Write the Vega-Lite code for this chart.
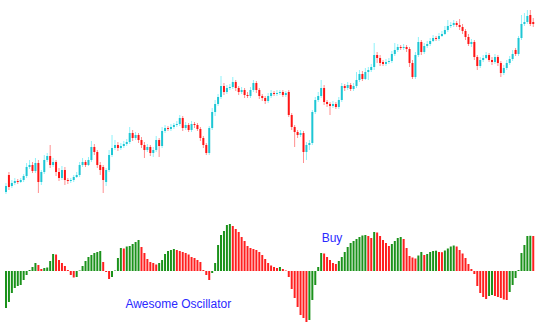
{
"$schema": "https://vega.github.io/schema/vega-lite/v6.json",
"width": 552, "height": 334,
"autosize": {"type": "fit", "contains": "padding"},
"padding": 0,
"background": "white",
"config": {"view": {"stroke": null}},
"datasets": {
"candles": [
{"i":0,"o":208,"h":217,"l":206,"c":214},{"i":1,"o":225,"h":228,"l":210,"c":213},{"i":2,"o":214,"h":220,"l":212,"c":217},{"i":3,"o":217,"h":222,"l":215,"c":219},{"i":4,"o":219,"h":221,"l":216,"c":218},{"i":5,"o":218,"h":222,"l":217,"c":220},{"i":6,"o":220,"h":226,"l":218,"c":224},{"i":7,"o":224,"h":237,"l":222,"c":233},{"i":8,"o":233,"h":240,"l":231,"c":235},{"i":9,"o":235,"h":238,"l":227,"c":229},
{"i":10,"o":229,"h":242,"l":227,"c":237},{"i":11,"o":237,"h":240,"l":207,"c":218},{"i":12,"o":218,"h":230,"l":215,"c":228},{"i":13,"o":228,"h":245,"l":226,"c":240},{"i":14,"o":240,"h":247,"l":238,"c":244},{"i":15,"o":244,"h":255,"l":232,"c":235},{"i":16,"o":235,"h":242,"l":233,"c":238},{"i":17,"o":238,"h":240,"l":224,"c":228},{"i":18,"o":228,"h":232,"l":219,"c":222},{"i":19,"o":222,"h":234,"l":220,"c":230},
{"i":20,"o":230,"h":233,"l":215,"c":220},{"i":21,"o":220,"h":222,"l":216,"c":219},{"i":22,"o":219,"h":222,"l":217,"c":220},{"i":23,"o":220,"h":225,"l":218,"c":223},{"i":24,"o":223,"h":228,"l":222,"c":225},{"i":25,"o":225,"h":238,"l":223,"c":235},{"i":26,"o":235,"h":242,"l":233,"c":238},{"i":27,"o":238,"h":240,"l":233,"c":235},{"i":28,"o":235,"h":243,"l":234,"c":240},{"i":29,"o":240,"h":259,"l":238,"c":253},
{"i":30,"o":253,"h":256,"l":245,"c":248},{"i":31,"o":248,"h":250,"l":232,"c":235},{"i":32,"o":235,"h":238,"l":225,"c":230},{"i":33,"o":233,"h":235,"l":207,"c":220},{"i":34,"o":218,"h":232,"l":214,"c":230},{"i":35,"o":230,"h":250,"l":228,"c":245},{"i":36,"o":245,"h":265,"l":243,"c":252},{"i":37,"o":252,"h":260,"l":250,"c":255},{"i":38,"o":255,"h":258,"l":249,"c":252},{"i":39,"o":252,"h":257,"l":250,"c":254},
{"i":40,"o":254,"h":259,"l":252,"c":256},{"i":41,"o":256,"h":261,"l":254,"c":258},{"i":42,"o":258,"h":273,"l":256,"c":267},{"i":43,"o":267,"h":270,"l":259,"c":262},{"i":44,"o":262,"h":268,"l":260,"c":265},{"i":45,"o":265,"h":267,"l":257,"c":260},{"i":46,"o":260,"h":263,"l":252,"c":255},{"i":47,"o":255,"h":258,"l":242,"c":250},{"i":48,"o":250,"h":256,"l":248,"c":253},{"i":49,"o":253,"h":255,"l":244,"c":247},
{"i":50,"o":247,"h":253,"l":243,"c":250},{"i":51,"o":250,"h":264,"l":248,"c":260},{"i":52,"o":260,"h":262,"l":243,"c":254},{"i":53,"o":254,"h":273,"l":252,"c":269},{"i":54,"o":269,"h":275,"l":267,"c":272},{"i":55,"o":272,"h":274,"l":269,"c":271},{"i":56,"o":271,"h":276,"l":269,"c":273},{"i":57,"o":273,"h":277,"l":271,"c":275},{"i":58,"o":275,"h":279,"l":273,"c":276},{"i":59,"o":276,"h":285,"l":274,"c":282},
{"i":60,"o":282,"h":284,"l":269,"c":272},{"i":61,"o":272,"h":278,"l":270,"c":275},{"i":62,"o":275,"h":277,"l":268,"c":270},{"i":63,"o":270,"h":279,"l":268,"c":276},{"i":64,"o":276,"h":278,"l":272,"c":275},{"i":65,"o":275,"h":277,"l":269,"c":271},{"i":66,"o":271,"h":273,"l":259,"c":262},{"i":67,"o":262,"h":264,"l":252,"c":255},{"i":68,"o":255,"h":257,"l":245,"c":247},{"i":69,"o":247,"h":274,"l":245,"c":272},
{"i":70,"o":272,"h":292,"l":270,"c":288},{"i":71,"o":288,"h":300,"l":284,"c":296},{"i":72,"o":296,"h":306,"l":294,"c":303},{"i":73,"o":303,"h":324,"l":301,"c":314},{"i":74,"o":314,"h":317,"l":305,"c":308},{"i":75,"o":308,"h":315,"l":306,"c":312},{"i":76,"o":312,"h":316,"l":310,"c":313},{"i":77,"o":313,"h":323,"l":311,"c":318},{"i":78,"o":318,"h":320,"l":309,"c":312},{"i":79,"o":312,"h":314,"l":305,"c":308},
{"i":80,"o":308,"h":313,"l":306,"c":310},{"i":81,"o":310,"h":312,"l":302,"c":305},{"i":82,"o":305,"h":308,"l":302,"c":304},{"i":83,"o":304,"h":313,"l":302,"c":310},{"i":84,"o":310,"h":320,"l":308,"c":317},{"i":85,"o":317,"h":319,"l":307,"c":310},{"i":86,"o":310,"h":312,"l":301,"c":304},{"i":87,"o":304,"h":306,"l":299,"c":302},{"i":88,"o":302,"h":304,"l":296,"c":299},{"i":89,"o":299,"h":307,"l":297,"c":304},
{"i":90,"o":304,"h":310,"l":302,"c":307},{"i":91,"o":307,"h":309,"l":304,"c":306},{"i":92,"o":306,"h":310,"l":304,"c":307},{"i":93,"o":307,"h":310,"l":305,"c":308},{"i":94,"o":308,"h":310,"l":303,"c":305},{"i":95,"o":305,"h":309,"l":303,"c":307},{"i":96,"o":308,"h":310,"l":283,"c":285},{"i":97,"o":285,"h":287,"l":270,"c":273},{"i":98,"o":273,"h":275,"l":253,"c":268},{"i":99,"o":268,"h":270,"l":262,"c":265},
{"i":100,"o":265,"h":270,"l":263,"c":267},{"i":101,"o":267,"h":269,"l":237,"c":248},{"i":102,"o":248,"h":258,"l":240,"c":255},{"i":103,"o":255,"h":260,"l":250,"c":257},{"i":104,"o":257,"h":290,"l":255,"c":288},{"i":105,"o":288,"h":303,"l":286,"c":300},{"i":106,"o":300,"h":308,"l":298,"c":304},{"i":107,"o":304,"h":320,"l":302,"c":312},{"i":108,"o":312,"h":315,"l":295,"c":298},{"i":109,"o":298,"h":300,"l":293,"c":296},
{"i":110,"o":296,"h":298,"l":285,"c":294},{"i":111,"o":294,"h":299,"l":292,"c":296},{"i":112,"o":296,"h":298,"l":291,"c":293},{"i":113,"o":293,"h":303,"l":291,"c":300},{"i":114,"o":300,"h":317,"l":298,"c":314},{"i":115,"o":314,"h":316,"l":309,"c":312},{"i":116,"o":312,"h":318,"l":310,"c":315},{"i":117,"o":315,"h":317,"l":309,"c":311},{"i":118,"o":311,"h":317,"l":309,"c":314},{"i":119,"o":314,"h":328,"l":312,"c":320},
{"i":120,"o":320,"h":330,"l":318,"c":326},{"i":121,"o":326,"h":329,"l":319,"c":321},{"i":122,"o":321,"h":332,"l":320,"c":328},{"i":123,"o":328,"h":333,"l":320,"c":330},{"i":124,"o":330,"h":336,"l":328,"c":333},{"i":125,"o":333,"h":357,"l":330,"c":345},{"i":126,"o":345,"h":348,"l":337,"c":342},{"i":127,"o":342,"h":345,"l":334,"c":337},{"i":128,"o":338,"h":340,"l":334,"c":336},{"i":129,"o":336,"h":341,"l":334,"c":338},
{"i":130,"o":338,"h":342,"l":336,"c":339},{"i":131,"o":339,"h":349,"l":337,"c":346},{"i":132,"o":346,"h":357,"l":344,"c":350},{"i":133,"o":350,"h":356,"l":348,"c":353},{"i":134,"o":353,"h":355,"l":350,"c":352},{"i":135,"o":352,"h":356,"l":350,"c":353},{"i":136,"o":353,"h":355,"l":348,"c":351},{"i":137,"o":351,"h":353,"l":333,"c":337},{"i":138,"o":337,"h":340,"l":321,"c":323},{"i":139,"o":323,"h":348,"l":321,"c":345},
{"i":140,"o":345,"h":363,"l":343,"c":358},{"i":141,"o":358,"h":360,"l":345,"c":348},{"i":142,"o":348,"h":357,"l":346,"c":354},{"i":143,"o":354,"h":359,"l":352,"c":356},{"i":144,"o":356,"h":362,"l":354,"c":359},{"i":145,"o":359,"h":365,"l":358,"c":362},{"i":146,"o":362,"h":364,"l":359,"c":361},{"i":147,"o":361,"h":367,"l":359,"c":364},{"i":148,"o":364,"h":369,"l":363,"c":366},{"i":149,"o":366,"h":374,"l":365,"c":370},
{"i":150,"o":370,"h":380,"l":368,"c":374},{"i":151,"o":374,"h":378,"l":372,"c":375},{"i":152,"o":375,"h":380,"l":373,"c":377},{"i":153,"o":377,"h":379,"l":373,"c":375},{"i":154,"o":375,"h":381,"l":370,"c":373},{"i":155,"o":373,"h":376,"l":366,"c":369},{"i":156,"o":369,"h":371,"l":360,"c":363},{"i":157,"o":363,"h":366,"l":354,"c":356},{"i":158,"o":356,"h":361,"l":353,"c":358},{"i":159,"o":358,"h":360,"l":340,"c":343},
{"i":160,"o":343,"h":345,"l":330,"c":334},{"i":161,"o":334,"h":343,"l":332,"c":340},{"i":162,"o":340,"h":345,"l":338,"c":342},{"i":163,"o":342,"h":348,"l":341,"c":345},{"i":164,"o":345,"h":347,"l":338,"c":340},{"i":165,"o":340,"h":343,"l":335,"c":338},{"i":166,"o":338,"h":346,"l":336,"c":343},{"i":167,"o":343,"h":345,"l":334,"c":337},{"i":168,"o":337,"h":339,"l":323,"c":327},{"i":169,"o":327,"h":335,"l":325,"c":332},
{"i":170,"o":332,"h":340,"l":330,"c":337},{"i":171,"o":337,"h":344,"l":335,"c":341},{"i":172,"o":341,"h":350,"l":339,"c":346},{"i":173,"o":350,"h":352,"l":344,"c":346},{"i":174,"o":346,"h":364,"l":344,"c":362},{"i":175,"o":362,"h":385,"l":360,"c":376},{"i":176,"o":376,"h":387,"l":374,"c":378},{"i":177,"o":378,"h":390,"l":376,"c":384},{"i":178,"o":385,"h":390,"l":374,"c":376},{"i":179,"o":378,"h":382,"l":373,"c":376}
],
"ao": [
{"i":0,"ao":-37},{"i":1,"ao":-31},{"i":2,"ao":-22},{"i":3,"ao":-17},{"i":4,"ao":-15},{"i":5,"ao":-14},{"i":6,"ao":-9},{"i":7,"ao":-4},{"i":8,"ao":1},{"i":9,"ao":4},
{"i":10,"ao":8},{"i":11,"ao":6},{"i":12,"ao":2},{"i":13,"ao":3},{"i":14,"ao":3.5},{"i":15,"ao":10},{"i":16,"ao":17},{"i":17,"ao":16.5},{"i":18,"ao":11},{"i":19,"ao":8},
{"i":20,"ao":5},{"i":21,"ao":1},{"i":22,"ao":-4},{"i":23,"ao":-6.5},{"i":24,"ao":-6},{"i":25,"ao":0.5},{"i":26,"ao":5},{"i":27,"ao":10},{"i":28,"ao":14},{"i":29,"ao":16},
{"i":30,"ao":18},{"i":31,"ao":19},{"i":32,"ao":20},{"i":33,"ao":9},{"i":34,"ao":-1},{"i":35,"ao":-8},{"i":36,"ao":-6},{"i":37,"ao":0.5},{"i":38,"ao":13},{"i":39,"ao":23},
{"i":40,"ao":22.5},{"i":41,"ao":24.5},{"i":42,"ao":25},{"i":43,"ao":27},{"i":44,"ao":29},{"i":45,"ao":31},{"i":46,"ao":24},{"i":47,"ao":18},{"i":48,"ao":12},{"i":49,"ao":9},
{"i":50,"ao":8},{"i":51,"ao":6.5},{"i":52,"ao":8},{"i":53,"ao":11},{"i":54,"ao":17},{"i":55,"ao":20},{"i":56,"ao":21},{"i":57,"ao":22},{"i":58,"ao":21},{"i":59,"ao":20},
{"i":60,"ao":19},{"i":61,"ao":18},{"i":62,"ao":16.5},{"i":63,"ao":14},{"i":64,"ao":13},{"i":65,"ao":11},{"i":66,"ao":9},{"i":67,"ao":1},{"i":68,"ao":-4},{"i":69,"ao":-9},
{"i":70,"ao":-2},{"i":71,"ao":8},{"i":72,"ao":26},{"i":73,"ao":36},{"i":74,"ao":40},{"i":75,"ao":46},{"i":76,"ao":47},{"i":77,"ao":45},{"i":78,"ao":42},{"i":79,"ao":39},
{"i":80,"ao":34},{"i":81,"ao":30},{"i":82,"ao":25},{"i":83,"ao":23},{"i":84,"ao":22},{"i":85,"ao":21},{"i":86,"ao":19},{"i":87,"ao":16},{"i":88,"ao":12},{"i":89,"ao":8},
{"i":90,"ao":5.5},{"i":91,"ao":4},{"i":92,"ao":3},{"i":93,"ao":4},{"i":94,"ao":2},{"i":95,"ao":0.5},{"i":96,"ao":-6},{"i":97,"ao":-18},{"i":98,"ao":-27},{"i":99,"ao":-36},
{"i":100,"ao":-44},{"i":101,"ao":-47},{"i":102,"ao":-51},{"i":103,"ao":-49},{"i":104,"ao":-29},{"i":105,"ao":-14},{"i":106,"ao":4},{"i":107,"ao":18},{"i":108,"ao":17.5},{"i":109,"ao":14},
{"i":110,"ao":11},{"i":111,"ao":8},{"i":112,"ao":7},{"i":113,"ao":10},{"i":114,"ao":14},{"i":115,"ao":19},{"i":116,"ao":24},{"i":117,"ao":28},{"i":118,"ao":30},{"i":119,"ao":32},
{"i":120,"ao":34},{"i":121,"ao":35.5},{"i":122,"ao":36},{"i":123,"ao":35},{"i":124,"ao":33},{"i":125,"ao":39},{"i":126,"ao":38.5},{"i":127,"ao":35},{"i":128,"ao":31},{"i":129,"ao":28},
{"i":130,"ao":25},{"i":131,"ao":27},{"i":132,"ao":30},{"i":133,"ao":33},{"i":134,"ao":34},{"i":135,"ao":32},{"i":136,"ao":23},{"i":137,"ao":15},{"i":138,"ao":13.5},{"i":139,"ao":12.5},
{"i":140,"ao":15.5},{"i":141,"ao":19},{"i":142,"ao":16},{"i":143,"ao":17},{"i":144,"ao":19},{"i":145,"ao":20},{"i":146,"ao":20.3},{"i":147,"ao":19},{"i":148,"ao":18.8},{"i":149,"ao":20.5},
{"i":150,"ao":22.5},{"i":151,"ao":24.5},{"i":152,"ao":25.5},{"i":153,"ao":24.5},{"i":154,"ao":21},{"i":155,"ao":17.5},{"i":156,"ao":13},{"i":157,"ao":7},{"i":158,"ao":2},{"i":159,"ao":-3},
{"i":160,"ao":-15},{"i":161,"ao":-22},{"i":162,"ao":-26},{"i":163,"ao":-28},{"i":164,"ao":-25},{"i":165,"ao":-24},{"i":166,"ao":-25},{"i":167,"ao":-26},{"i":168,"ao":-27},{"i":169,"ao":-28.5},
{"i":170,"ao":-29},{"i":171,"ao":-21},{"i":172,"ao":-14},{"i":173,"ao":-7},{"i":174,"ao":1},{"i":175,"ao":18},{"i":176,"ao":26},{"i":177,"ao":35},{"i":178,"ao":35.2},{"i":179,"ao":35}
]
},
"layer": [
{
"data": {"name": "candles"},
"layer": [
{"mark": {"type": "rule", "strokeWidth": 1},
 "encoding": {
  "x": {"field": "i", "type": "quantitative", "scale": {"domain": [-0.3333, 183.6667], "nice": false, "zero": false}, "axis": null},
  "y": {"field": "l", "type": "quantitative", "scale": {"domain": [66, 400], "nice": false, "zero": false}, "axis": null},
  "y2": {"field": "h"},
  "color": {"condition": {"test": "datum.c >= datum.o", "value": "#8ef2fa"}, "value": "#ff8f8f"}
 }},
{"mark": {"type": "bar", "width": 2},
 "encoding": {
  "x": {"field": "i", "type": "quantitative", "scale": {"domain": [-0.3333, 183.6667], "nice": false, "zero": false}, "axis": null},
  "y": {"field": "o", "type": "quantitative", "scale": {"domain": [66, 400], "nice": false, "zero": false}, "axis": null},
  "y2": {"field": "c"},
  "color": {"condition": {"test": "datum.c >= datum.o", "value": "#1ec6d4"}, "value": "#ff1414"}
 }}
]
},
{
"layer": [
{"data": {"name": "ao"},
 "transform": [{"window": [{"op": "lag", "field": "ao", "as": "prev"}], "sort": [{"field": "i"}]}],
 "mark": {"type": "bar", "width": 2},
 "encoding": {
  "x": {"field": "i", "type": "quantitative", "scale": {"domain": [-0.3333, 183.6667], "nice": false, "zero": false}, "axis": null},
  "y": {"field": "ao", "type": "quantitative", "scale": {"domain": [-63, 271], "nice": false, "zero": false}, "axis": null},
  "y2": {"datum": 0},
  "color": {"condition": {"test": "datum.prev == null || datum.ao > datum.prev", "value": "#1b921b"}, "value": "#ff1f1f"}
 }},
{"data": {"values": [{}]},
 "mark": {"type": "text", "text": "Buy", "font": "Liberation Sans", "fontSize": 12, "color": "#2a2aff", "align": "center", "baseline": "alphabetic"},
 "encoding": {
  "x": {"datum": 110.67, "type": "quantitative", "scale": {"domain": [-0.3333, 183.6667], "nice": false, "zero": false}},
  "y": {"datum": 29, "type": "quantitative", "scale": {"domain": [-63, 271], "nice": false, "zero": false}}
 }},
{"data": {"values": [{}]},
 "mark": {"type": "text", "text": "Awesome Oscillator", "font": "Liberation Sans", "fontSize": 12, "color": "#2a2aff", "align": "center", "baseline": "alphabetic"},
 "encoding": {
  "x": {"datum": 58.5, "type": "quantitative", "scale": {"domain": [-0.3333, 183.6667], "nice": false, "zero": false}},
  "y": {"datum": -37, "type": "quantitative", "scale": {"domain": [-63, 271], "nice": false, "zero": false}}
 }}
]
}
],
"resolve": {"scale": {"y": "independent"}}
}
